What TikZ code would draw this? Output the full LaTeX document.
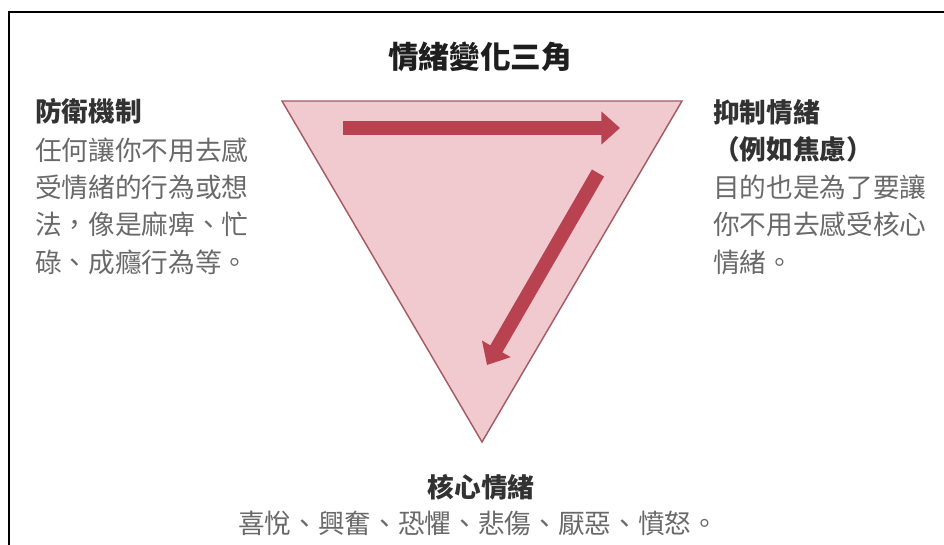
\documentclass[tikz,border=0pt]{standalone}
\usepackage{fontspec}
\setmainfont{Noto Sans CJK TC}
\usetikzlibrary{arrows.meta}
\definecolor{tripink}{RGB}{241,202,207}
\definecolor{triedge}{RGB}{165,92,102}
\definecolor{arrowred}{RGB}{184,66,80}
\definecolor{headgray}{RGB}{50,50,50}
\definecolor{bodygray}{RGB}{105,105,105}
\definecolor{titlegray}{RGB}{30,30,30}

\begin{document}
\begin{tikzpicture}[x=0.75pt, y=-0.75pt,
    head/.style={anchor=base west, inner sep=0, align=left, text=headgray,
        font=\fontsize{20}{28}\selectfont\bfseries},
    body/.style={anchor=base west, inner sep=0, align=left, text=bodygray,
        font=\fontsize{20}{28}\selectfont},
    flow/.style={line width=10.5pt, arrowred, -{Triangle[length=14pt, width=24pt]}}]

    \useasboundingbox (0, 0) rectangle (944, 545);
    \draw[line width=1.5pt] (9, 545) -- (9, 12) -- (944, 12);

    \coordinate (defense) at (282, 101);
    \coordinate (suppress) at (682, 101);
    \coordinate (core) at (482, 442);
    \filldraw[fill=tripink, draw=triedge, line width=1.1pt] (defense) -- (suppress) -- (core) -- cycle;

    \coordinate (topstart) at (343, 128);
    \coordinate (topend) at (620, 128);
    \coordinate (sidestart) at (598, 173);
    \coordinate (sideend) at (487, 365);
    \draw[flow] (topstart) -- (topend);
    \draw[flow] (sidestart) -- (sideend);

    \node[anchor=base, inner sep=0, text=titlegray, font=\fontsize{23}{28}\selectfont\bfseries]
        (title) at (480, 69) {情緒變化三角};

    % multi-line nodes sit on the baseline of their last line
    \node[head] (defhead) at (35, 122) {防衛機制};
    \node[body] (defbody) at (35, 272) {任何讓你不用去感\\受情緒的行為或想\\法，像是麻痺、忙\\碌、成癮行為等。};

    \node[head] (suphead) at (713, 160) {抑制情緒\\（例如焦慮）};
    \node[body] (supbody) at (713, 272) {目的也是為了要讓\\你不用去感受核心\\情緒。};

    \node[head, anchor=base] (corehead) at (481, 497) {核心情緒};
    \node[body, anchor=base] (corebody) at (478, 533) {喜悅、興奮、恐懼、悲傷、厭惡、憤怒。};

\end{tikzpicture}
\end{document}
